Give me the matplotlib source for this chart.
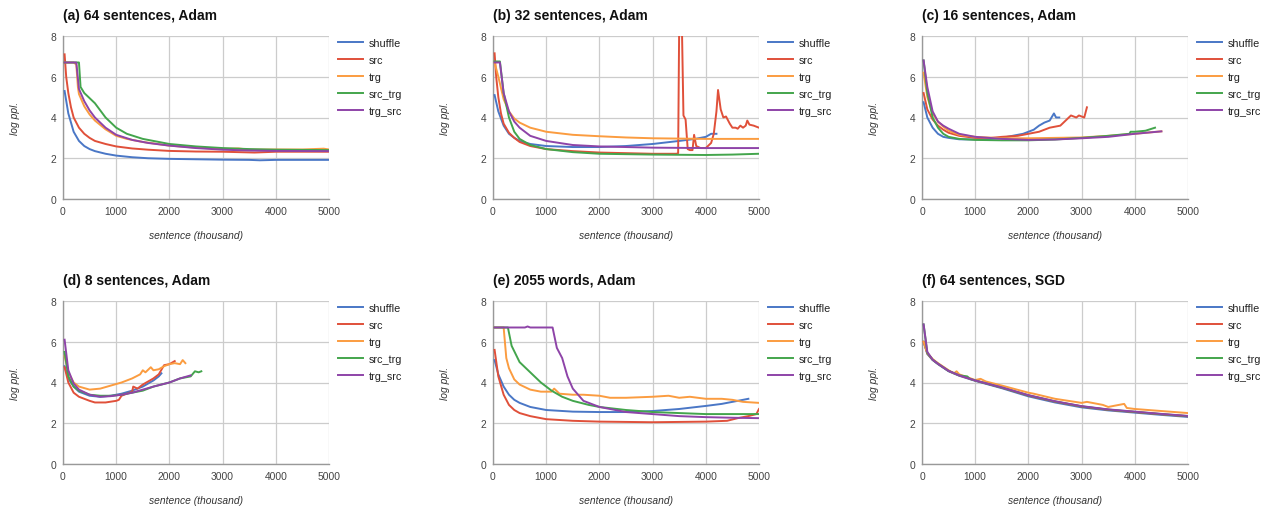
import matplotlib
matplotlib.use("Agg")
import matplotlib.pyplot as plt

plt.rcParams['font.family'] = ['Liberation Sans', 'DejaVu Sans']

series_names = ["shuffle", "src", "trg", "src_trg", "trg_src"]
colors = ["#4a77c6", "#e0503a", "#fb9c40", "#43a54c", "#8e44a8"]
titles = ["(a) 64 sentences, Adam", "(b) 32 sentences, Adam", "(c) 16 sentences, Adam",
          "(d) 8 sentences, Adam", "(e) 2055 words, Adam", "(f) 64 sentences, SGD"]
x_ticks = [0, 1000, 2000, 3000, 4000, 5000]
y_ticks = [0, 2, 4, 6, 8]

# ---- (a) 64 sentences, Adam ----
a_shuffle_x = [30, 100, 200, 300, 400, 500, 600, 800, 1000, 1300, 1600, 2000, 2500, 3000, 3500, 3700, 4000, 4500, 5000]
a_shuffle_y = [5.3, 4.2, 3.3, 2.85, 2.6, 2.45, 2.35, 2.22, 2.13, 2.05, 2.0, 1.97, 1.95, 1.93, 1.92, 1.9, 1.92, 1.92, 1.92]
a_src_x = [30, 60, 100, 150, 200, 300, 400, 500, 600, 800, 1000, 1300, 1600, 2000, 2500, 3000, 3600, 4000, 5000]
a_src_y = [7.1, 6.0, 5.2, 4.5, 4.0, 3.5, 3.2, 3.0, 2.85, 2.7, 2.58, 2.48, 2.42, 2.36, 2.33, 2.32, 2.28, 2.32, 2.32]
a_trg_x = [30, 200, 250, 280, 300, 400, 500, 600, 800, 1000, 1200, 1500, 2000, 2500, 3000, 3300, 3500, 4000, 4500, 4900, 5000]
a_trg_y = [6.7, 6.7, 6.6, 5.5, 5.15, 4.55, 4.15, 3.85, 3.42, 3.1, 2.95, 2.8, 2.62, 2.52, 2.46, 2.48, 2.42, 2.43, 2.43, 2.47, 2.43]
a_srctrg_x = [30, 300, 330, 400, 600, 800, 1000, 1200, 1500, 1800, 2000, 2500, 3000, 3500, 4000, 5000]
a_srctrg_y = [6.7, 6.7, 5.5, 5.2, 4.7, 4.0, 3.5, 3.2, 2.95, 2.8, 2.7, 2.58, 2.5, 2.45, 2.42, 2.4]
a_trgsrc_x = [30, 250, 300, 400, 500, 600, 800, 1000, 1300, 1600, 2000, 2500, 3000, 3500, 4000, 5000]
a_trgsrc_y = [6.7, 6.7, 5.4, 4.8, 4.35, 4.0, 3.5, 3.15, 2.9, 2.75, 2.62, 2.5, 2.42, 2.38, 2.36, 2.35]

# ---- (b) 32 sentences, Adam ----
b_shuffle_x = [30, 100, 200, 300, 400, 500, 700, 1000, 1500, 2000, 2500, 3000, 3500, 3800, 4000, 4100, 4200]
b_shuffle_y = [5.1, 4.3, 3.6, 3.2, 3.0, 2.85, 2.7, 2.6, 2.55, 2.55, 2.6, 2.7, 2.85, 2.95, 3.05, 3.2, 3.2]
b_src_x = [30, 60, 100, 150, 200, 300, 400, 500, 700, 1000, 1500, 2000, 2500, 3000, 3450, 3480, 3500, 3550, 3580,
           3620, 3660, 3700, 3750, 3780, 3820, 3900, 4000, 4100, 4150, 4200, 4230, 4280, 4330, 4380, 4450, 4500,
           4560, 4600, 4650, 4700, 4750, 4780, 4820, 4900, 5000]
b_src_y = [7.15, 6.0, 5.0, 4.2, 3.7, 3.25, 3.0, 2.8, 2.6, 2.45, 2.35, 2.28, 2.25, 2.22, 2.22, 2.25, 8.6, 8.6, 4.1,
           3.9, 2.45, 2.4, 2.4, 3.15, 2.6, 2.5, 2.5, 2.75, 3.2, 4.3, 5.35, 4.4, 4.0, 4.05, 3.7, 3.5,
           3.5, 3.45, 3.6, 3.5, 3.6, 3.85, 3.65, 3.6, 3.5]
b_trg_x = [30, 100, 200, 300, 400, 500, 700, 1000, 1500, 2000, 2500, 3000, 4000, 5000]
b_trg_y = [6.7, 6.0, 4.9, 4.3, 3.95, 3.75, 3.5, 3.3, 3.15, 3.08, 3.02, 2.98, 2.95, 2.95]
b_srctrg_x = [30, 130, 200, 300, 400, 500, 700, 1000, 1500, 2000, 2500, 3000, 3500, 4000, 4500, 5000]
b_srctrg_y = [6.75, 6.75, 5.2, 4.0, 3.3, 2.95, 2.65, 2.45, 2.3, 2.22, 2.2, 2.18, 2.17, 2.16, 2.18, 2.22]
b_trgsrc_x = [30, 130, 200, 300, 400, 500, 700, 1000, 1500, 2000, 2500, 3000, 4000, 5000]
b_trgsrc_y = [6.7, 6.7, 5.2, 4.3, 3.8, 3.5, 3.1, 2.85, 2.65, 2.58, 2.55, 2.52, 2.5, 2.5]

# ---- (c) 16 sentences, Adam ----
c_shuffle_x = [30, 100, 200, 300, 400, 500, 700, 1000, 1300, 1500, 1700, 1900, 2000, 2100, 2200, 2300, 2400, 2480, 2520, 2580]
c_shuffle_y = [4.75, 4.0, 3.5, 3.2, 3.05, 3.0, 2.93, 2.92, 2.95, 3.0, 3.1, 3.2, 3.3, 3.4, 3.6, 3.75, 3.85, 4.2, 4.0, 4.0]
c_src_x = [30, 100, 200, 300, 400, 500, 700, 1000, 1300, 1500, 1800, 2000, 2200, 2400, 2600, 2700, 2800, 2900, 2950, 3050, 3100]
c_src_y = [5.2, 4.4, 3.9, 3.6, 3.4, 3.25, 3.1, 3.0, 3.0, 3.05, 3.1, 3.2, 3.3, 3.5, 3.6, 3.85, 4.1, 4.0, 4.1, 4.0, 4.5]
c_trg_x = [30, 100, 200, 300, 400, 500, 700, 1000, 1500, 2000, 2500, 3000, 3500, 4000, 4500]
c_trg_y = [6.2, 5.0, 4.2, 3.8, 3.55, 3.35, 3.15, 3.05, 2.98, 2.98, 3.0, 3.02, 3.1, 3.2, 3.32]
c_srctrg_x = [30, 100, 200, 300, 400, 500, 700, 1000, 1500, 2000, 2500, 3000, 3500, 3900, 3920, 4000, 4200, 4380]
c_srctrg_y = [6.8, 5.2, 4.0, 3.5, 3.2, 3.05, 2.95, 2.9, 2.88, 2.88, 2.92, 3.0, 3.1, 3.2, 3.3, 3.3, 3.35, 3.5]
c_trgsrc_x = [30, 100, 200, 300, 400, 500, 700, 1000, 1500, 2000, 2500, 3000, 3500, 4000, 4500]
c_trgsrc_y = [6.8, 5.5, 4.3, 3.8, 3.6, 3.45, 3.2, 3.05, 2.95, 2.9, 2.92, 2.98, 3.05, 3.2, 3.32]

# ---- (d) 8 sentences, Adam ----
d_shuffle_x = [30, 100, 200, 300, 500, 700, 900, 1100, 1300, 1500, 1700, 1800, 1850]
d_shuffle_y = [4.8, 4.2, 3.8, 3.55, 3.35, 3.3, 3.35, 3.45, 3.6, 3.8, 4.1, 4.3, 4.45]
d_src_x = [30, 100, 200, 300, 500, 600, 800, 1000, 1050, 1100, 1300, 1320, 1400, 1500, 1700, 1800, 1900, 2000, 2100]
d_src_y = [4.75, 4.0, 3.5, 3.3, 3.1, 3.02, 3.02, 3.1, 3.15, 3.35, 3.55, 3.8, 3.7, 3.9, 4.2, 4.4, 4.85, 4.9, 5.05]
d_trg_x = [30, 100, 200, 300, 500, 700, 900, 1100, 1300, 1450, 1500, 1550, 1650, 1700, 1800, 1900, 2000, 2100, 2200, 2250, 2300]
d_trg_y = [5.3, 4.5, 4.0, 3.8, 3.65, 3.7, 3.85, 4.0, 4.2, 4.4, 4.6, 4.5, 4.75, 4.6, 4.65, 4.8, 4.9, 4.95, 4.9, 5.1, 4.95]
d_srctrg_x = [30, 100, 200, 300, 500, 700, 900, 1100, 1300, 1500, 1700, 2000, 2200, 2400, 2480, 2550, 2600]
d_srctrg_y = [5.5, 4.3, 3.8, 3.6, 3.4, 3.35, 3.35, 3.4, 3.5, 3.6, 3.8, 4.0, 4.2, 4.3, 4.55, 4.5, 4.55]
d_trgsrc_x = [30, 100, 200, 300, 500, 700, 900, 1100, 1300, 1500, 1700, 2000, 2200, 2400]
d_trgsrc_y = [6.1, 4.6, 3.95, 3.65, 3.4, 3.3, 3.33, 3.4, 3.5, 3.65, 3.8, 4.0, 4.2, 4.35]

# ---- (e) 2055 words, Adam ----
e_shuffle_x = [30, 100, 200, 300, 400, 500, 700, 1000, 1500, 2000, 2500, 3000, 3500, 4000, 4300, 4500, 4800]
e_shuffle_y = [5.1, 4.4, 3.8, 3.4, 3.15, 3.0, 2.8, 2.65, 2.57, 2.55, 2.55, 2.6, 2.7, 2.85, 2.95, 3.05, 3.2]
e_src_x = [30, 100, 200, 300, 400, 500, 700, 1000, 1500, 2000, 3000, 4000, 4400, 4600, 4800, 4950, 5000]
e_src_y = [5.6, 4.3, 3.4, 2.9, 2.65, 2.5, 2.35, 2.2, 2.12, 2.08, 2.05, 2.08, 2.12, 2.25, 2.35, 2.45, 2.7]
e_trg_x = [30, 200, 250, 300, 400, 500, 700, 900, 1100, 1150, 1250, 1500, 1700, 2000, 2200, 2500, 3000, 3300, 3500,
           3700, 4000, 4300, 4500, 4700, 5000]
e_trg_y = [6.7, 6.7, 5.2, 4.7, 4.15, 3.9, 3.65, 3.55, 3.55, 3.7, 3.45, 3.4, 3.4, 3.35, 3.25, 3.25, 3.3, 3.35, 3.25,
           3.3, 3.2, 3.2, 3.15, 3.05, 3.0]
e_srctrg_x = [30, 280, 350, 500, 700, 900, 1100, 1300, 1500, 1800, 2000, 2500, 3000, 3500, 4000, 5000]
e_srctrg_y = [6.7, 6.7, 5.8, 5.0, 4.5, 4.0, 3.6, 3.3, 3.1, 2.9, 2.8, 2.65, 2.55, 2.5, 2.45, 2.45]
e_trgsrc_x = [30, 600, 650, 700, 1120, 1200, 1300, 1400, 1500, 1700, 2000, 2500, 3000, 3500, 4000, 4500, 5000]
e_trgsrc_y = [6.7, 6.7, 6.75, 6.7, 6.7, 5.7, 5.2, 4.3, 3.7, 3.1, 2.8, 2.55, 2.45, 2.35, 2.3, 2.27, 2.25]

# ---- (f) 64 sentences, SGD ----
f_shuffle_x = [30, 100, 200, 300, 500, 700, 1000, 1500, 2000, 2500, 3000, 3500, 4000, 4500, 5000]
f_shuffle_y = [6.0, 5.4, 5.1, 4.9, 4.55, 4.33, 4.08, 3.72, 3.32, 3.02, 2.78, 2.63, 2.52, 2.41, 2.31]
f_src_x = [30, 100, 200, 300, 500, 700, 1000, 1500, 2000, 2500, 3000, 3500, 4000, 4500, 5000]
f_src_y = [6.0, 5.42, 5.12, 4.92, 4.57, 4.35, 4.1, 3.75, 3.36, 3.06, 2.82, 2.66, 2.55, 2.44, 2.34]
f_trg_x = [30, 100, 200, 300, 500, 600, 650, 700, 1000, 1100, 1200, 1500, 2000, 2100, 2500, 3000, 3100, 3400,
           3500, 3800, 3850, 4000, 4500, 5000]
f_trg_y = [6.0, 5.45, 5.15, 4.95, 4.6, 4.45, 4.55, 4.4, 4.12, 4.18, 4.05, 3.85, 3.5, 3.45, 3.2, 3.0, 3.05, 2.9,
           2.8, 2.95, 2.75, 2.7, 2.6, 2.5]
f_srctrg_x = [30, 100, 200, 300, 500, 700, 850, 900, 1000, 1500, 2000, 2500, 3000, 3500, 4000, 4500, 5000]
f_srctrg_y = [6.85, 5.45, 5.12, 4.92, 4.57, 4.35, 4.3, 4.18, 4.1, 3.75, 3.37, 3.07, 2.83, 2.67, 2.56, 2.45, 2.35]
f_trgsrc_x = [30, 100, 200, 300, 500, 700, 1000, 1500, 2000, 2500, 3000, 3500, 4000, 4500, 5000]
f_trgsrc_y = [6.85, 5.5, 5.12, 4.92, 4.57, 4.35, 4.1, 3.76, 3.38, 3.08, 2.84, 2.68, 2.57, 2.46, 2.36]

panels = [
    [(a_shuffle_x, a_shuffle_y), (a_src_x, a_src_y), (a_trg_x, a_trg_y), (a_srctrg_x, a_srctrg_y), (a_trgsrc_x, a_trgsrc_y)],
    [(b_shuffle_x, b_shuffle_y), (b_src_x, b_src_y), (b_trg_x, b_trg_y), (b_srctrg_x, b_srctrg_y), (b_trgsrc_x, b_trgsrc_y)],
    [(c_shuffle_x, c_shuffle_y), (c_src_x, c_src_y), (c_trg_x, c_trg_y), (c_srctrg_x, c_srctrg_y), (c_trgsrc_x, c_trgsrc_y)],
    [(d_shuffle_x, d_shuffle_y), (d_src_x, d_src_y), (d_trg_x, d_trg_y), (d_srctrg_x, d_srctrg_y), (d_trgsrc_x, d_trgsrc_y)],
    [(e_shuffle_x, e_shuffle_y), (e_src_x, e_src_y), (e_trg_x, e_trg_y), (e_srctrg_x, e_srctrg_y), (e_trgsrc_x, e_trgsrc_y)],
    [(f_shuffle_x, f_shuffle_y), (f_src_x, f_src_y), (f_trg_x, f_trg_y), (f_srctrg_x, f_srctrg_y), (f_trgsrc_x, f_trgsrc_y)],
]

W, H = 1269, 510
fig = plt.figure(figsize=(W / 100, H / 100), dpi=100)
lefts = [63, 493, 922]
tops = [37, 302]
ax_w, ax_h = 266, 163

for i, (title, data) in enumerate(zip(titles, panels)):
    r, c = divmod(i, 3)
    ax = fig.add_axes([lefts[c] / W, 1 - (tops[r] + ax_h) / H, ax_w / W, ax_h / H])
    for k, (xs, ys) in enumerate(data):
        ax.plot(xs, ys, color=colors[k], lw=1.4, label=series_names[k], zorder=3 + k,
                solid_joinstyle='round')
    ax.set_xlim(0, 5000)
    ax.set_ylim(0, 8)
    ax.set_xticks(x_ticks)
    ax.set_yticks(y_ticks)
    ax.grid(True, color='#cccccc', lw=0.9, zorder=0)
    ax.set_axisbelow(True)
    for s in ['top', 'right']:
        ax.spines[s].set_visible(False)
    for s in ['left', 'bottom']:
        ax.spines[s].set_color('#999999')
        ax.spines[s].set_linewidth(1.0)
    ax.tick_params(length=0, labelsize=7.4, colors='#444444', pad=5)
    ax.set_title(title, loc='left', fontsize=10, fontweight='bold', pad=12, color='#111111')
    ax.set_xlabel('sentence (thousand)', fontsize=7.4, style='italic', color='#333333', labelpad=10)
    ax.set_ylabel('log ppl.', fontsize=7.4, style='italic', color='#333333', labelpad=22)
    leg = ax.legend(loc='upper left', bbox_to_anchor=(1.035, 0.99), frameon=False, fontsize=7.8,
                    handlelength=2.3, handletextpad=0.55, labelspacing=0.65, borderaxespad=0,
                    borderpad=0)
    for t in leg.get_texts():
        t.set_color('#222222')

fig.savefig('out.png', dpi=100)
